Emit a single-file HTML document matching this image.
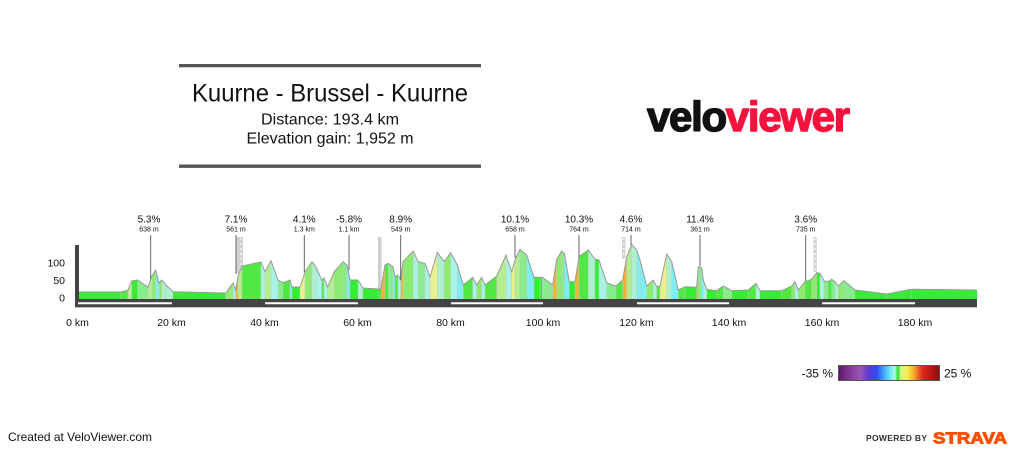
<!DOCTYPE html>
<html><head><meta charset="utf-8"><style>
html,body{margin:0;padding:0;background:#fff;}
svg{display:block;font-family:"Liberation Sans",Arial,sans-serif;}
</style></head><body>
<svg id="c" xmlns="http://www.w3.org/2000/svg" width="1024" height="451" viewBox="0 0 1024 451">
<defs>
<linearGradient id="cb" x1="0" x2="1" y1="0" y2="0">
<stop offset="0" stop-color="#5a1768"/>
<stop offset="0.12" stop-color="#8a3a98"/>
<stop offset="0.22" stop-color="#9a55b8"/>
<stop offset="0.30" stop-color="#5a3ad8"/>
<stop offset="0.38" stop-color="#2f4cf0"/>
<stop offset="0.45" stop-color="#45a8ff"/>
<stop offset="0.52" stop-color="#70f0f4"/>
<stop offset="0.56" stop-color="#b8f6e6"/>
<stop offset="0.585" stop-color="#22e022"/>
<stop offset="0.62" stop-color="#d8f48a"/>
<stop offset="0.68" stop-color="#f4f050"/>
<stop offset="0.75" stop-color="#f4a52a"/>
<stop offset="0.83" stop-color="#e2281e"/>
<stop offset="1" stop-color="#8a0c0c"/>
</linearGradient>
</defs>
<rect width="1024" height="451" fill="#fff"/>

<!-- Title block -->
<rect x="179" y="64" width="302" height="3.3" fill="#555"/>
<rect x="179" y="164.5" width="302" height="3.4" fill="#555"/>
<text x="330" y="101.5" font-size="25" text-anchor="middle" fill="#111" textLength="276" lengthAdjust="spacingAndGlyphs">Kuurne - Brussel - Kuurne</text>
<text x="330" y="124.3" font-size="16" text-anchor="middle" fill="#111" textLength="138" lengthAdjust="spacingAndGlyphs">Distance: 193.4 km</text>
<text x="330" y="143.5" font-size="16" text-anchor="middle" fill="#111" textLength="167" lengthAdjust="spacingAndGlyphs">Elevation gain: 1,952 m</text>

<!-- veloviewer logo -->
<text x="647" y="131" font-size="42" font-weight="bold" textLength="203" lengthAdjust="spacing" stroke-width="1.4" stroke-linejoin="round"><tspan fill="#111" stroke="#111">velo</tspan><tspan fill="#f5133d" stroke="#f5133d">viewer</tspan></text>

<!-- markers: gray bars -->
<rect x="236" y="237" width="7" height="36" fill="#d2d2d2"/>
<line x1="241" y1="238" x2="241" y2="272" stroke="#fff" stroke-width="1" stroke-dasharray="2,3"/>
<rect x="378" y="237" width="3.5" height="52" fill="#cfcfcf"/>
<rect x="622" y="237" width="3.5" height="22" fill="#d2d2d2"/>
<line x1="623.8" y1="238" x2="623.8" y2="258" stroke="#fff" stroke-width="1" stroke-dasharray="2,3"/>
<rect x="813.5" y="237" width="3.3" height="35" fill="#d2d2d2"/>
<line x1="815.2" y1="238" x2="815.2" y2="271" stroke="#fff" stroke-width="1" stroke-dasharray="2,3"/>

<!-- profile -->
<g id="prof">
<polygon id="base" fill="#33ee33" stroke="none" points=""/>
</g>
<polyline id="outline" fill="none" stroke="#9a9a9a" stroke-width="1" points=""/>

<!-- marker lines -->
<g stroke="#555" stroke-width="0.9">
<line x1="150.7" y1="235" x2="150.7" y2="279"/>
<line x1="236" y1="235" x2="236" y2="274"/>
<line x1="304.3" y1="235" x2="304.3" y2="272"/>
<line x1="349" y1="235" x2="349" y2="270"/>
<line x1="400.7" y1="235" x2="400.7" y2="280"/>
<line x1="515" y1="235" x2="515" y2="258"/>
<line x1="579" y1="235" x2="579" y2="257"/>
<line x1="631" y1="235" x2="631" y2="245"/>
<line x1="700" y1="235" x2="700" y2="266"/>
<line x1="805.7" y1="235" x2="805.7" y2="281"/>
</g>
<g fill="#111" text-anchor="middle">
<g font-size="10">
<text x="149" y="222.5">5.3%</text>
<text x="236" y="222.5">7.1%</text>
<text x="304.3" y="222.5">4.1%</text>
<text x="349" y="222.5">-5.8%</text>
<text x="400.7" y="222.5">8.9%</text>
<text x="515" y="222.5">10.1%</text>
<text x="579" y="222.5">10.3%</text>
<text x="631" y="222.5">4.6%</text>
<text x="700" y="222.5">11.4%</text>
<text x="805.7" y="222.5">3.6%</text>
</g>
<g font-size="7">
<text x="149" y="231.5">638 m</text>
<text x="236" y="231.5">561 m</text>
<text x="304.3" y="231.5">1.3 km</text>
<text x="349" y="231.5">1.1 km</text>
<text x="400.7" y="231.5">549 m</text>
<text x="515" y="231.5">658 m</text>
<text x="579" y="231.5">764 m</text>
<text x="631" y="231.5">714 m</text>
<text x="700" y="231.5">361 m</text>
<text x="805.7" y="231.5">735 m</text>
</g>
</g>

<!-- axes -->
<rect x="75" y="245" width="4" height="62" fill="#444"/>
<rect x="75" y="299" width="902" height="8.3" fill="#444"/>
<g stroke="#fff" stroke-width="2">
<line x1="78" y1="303.3" x2="172" y2="303.3"/>
<line x1="265" y1="303.3" x2="358" y2="303.3"/>
<line x1="451" y1="303.3" x2="543" y2="303.3"/>
<line x1="637" y1="303.3" x2="729" y2="303.3"/>
<line x1="822" y1="303.3" x2="915" y2="303.3"/>
</g>
<g font-size="10.5" fill="#111" text-anchor="end">
<text x="65" y="266.5">100</text>
<text x="65" y="284">50</text>
<text x="65" y="301.5">0</text>
</g>
<g font-size="10.5" fill="#111" text-anchor="middle">
<text x="77.5" y="326">0 km</text>
<text x="171.5" y="326">20 km</text>
<text x="264.5" y="326">40 km</text>
<text x="357.5" y="326">60 km</text>
<text x="450.5" y="326">80 km</text>
<text x="543" y="326">100 km</text>
<text x="636.5" y="326">120 km</text>
<text x="729" y="326">140 km</text>
<text x="822" y="326">160 km</text>
<text x="915" y="326">180 km</text>
</g>

<!-- colour bar -->
<text x="833" y="377.5" font-size="12" fill="#111" text-anchor="end">-35 %</text>
<rect x="838.5" y="365.5" width="101" height="15" fill="url(#cb)" stroke="#555" stroke-width="1"/>
<text x="944" y="377.5" font-size="12" fill="#111">25 %</text>

<!-- footer -->
<text x="8" y="441" font-size="12" fill="#111" textLength="144" lengthAdjust="spacingAndGlyphs">Created at VeloViewer.com</text>
<text x="866" y="441" font-size="8.5" font-weight="bold" fill="#333" textLength="61" lengthAdjust="spacing">POWERED BY</text>
<text x="933" y="443.5" font-size="16" font-weight="bold" fill="#fc5200" stroke="#fc5200" stroke-width="0.9" textLength="74" lengthAdjust="spacingAndGlyphs">STRAVA</text>
</svg>
<script>
(function(){
var P=[[78,292],[121,292],[128,290],[131.7,281],[137.7,280],[148,287],[152,276],[155.7,270],[159,283],[161.7,280],[166,285],[173,291.7],[225.7,293],[230,287],[233,283],[235.7,290],[238,276],[242,266],[261,262],[265,271.7],[271,260.7],[278,280],[283,282.7],[290,280],[292,287],[300,287],[305,272],[312,261.7],[316,266.7],[321.7,280],[324,278],[327.7,287],[334,272],[343,261.7],[347,265],[350,280],[358,280],[363,288],[378,289],[381,289],[385,265],[388.3,263.3],[393,266.7],[395,276.7],[398,275],[400.7,280],[403,261.7],[413.3,251],[418,261.7],[422,262.7],[425,263.3],[430,277],[437.3,252.3],[444.3,261.7],[450.7,252.7],[457.3,265],[463.3,285],[472.7,277.3],[476.7,285],[481.7,277.3],[485,285],[496.7,276],[506,255],[511.7,271.7],[515,260],[520,249.3],[526.7,255],[534,277.3],[540,277.3],[542.3,277.3],[548.3,281.7],[552.7,285],[556.7,259.3],[561.7,251],[564.3,253.3],[569.3,281.7],[575,281.7],[579,256.7],[588.3,250],[595,259.3],[599,260],[606.7,282.7],[616,286],[622.7,280],[626.7,257.3],[631.7,244.3],[636.7,250],[640,260],[646.7,286],[653.3,280],[656.7,286.7],[660,286],[666.7,254],[671.7,261.7],[678.3,290],[685,286.7],[696.7,287.3],[698.3,266.7],[701.7,267.7],[703.3,280],[706.7,289.3],[716.7,290.7],[723.3,286],[731.7,290.7],[748.3,290],[756,283.3],[760,290.7],[781.7,290.7],[791.7,286],[795,281.7],[798.3,290],[805,281.7],[811.7,279.3],[816.7,272.7],[820,273.3],[824,280.7],[828,281.7],[831.7,279.3],[835,281.7],[838.3,286],[844,280.7],[855,290],[886.7,294],[911.7,289.3],[977,290]];
var NS="http://www.w3.org/2000/svg",B=299;
var g=document.getElementById("prof");
var basePts=P.map(function(p){return p[0]+","+p[1];}).join(" ");
document.getElementById("base").setAttribute("points",basePts+" 977,"+B+" 78,"+B);
document.getElementById("outline").setAttribute("points",basePts);
function col(s){
 if(Math.abs(s)<0.2) return "#33ee33";
 if(s>0){
  if(s<0.9) return "#52e844";
  if(s<1.8) return "#8eea70";
  if(s<3) return "#b4ee92";
  if(s<5) return "#e8f090";
  return "#f2b23a";
 } else {
  s=-s;
  if(s<0.9) return "#86ec8c";
  if(s<1.8) return "#acf0d0";
  if(s<3) return "#a8f2e6";
  return "#7eeef0";
 }
}
for(var i=0;i<P.length-1;i++){
 var a=P[i],b=P[i+1];
 var s=(a[1]-b[1])/(b[0]-a[0]);
 var pg=document.createElementNS(NS,"polygon");
 pg.setAttribute("points",a[0]+","+a[1]+" "+b[0]+","+b[1]+" "+b[0]+","+B+" "+a[0]+","+B);
 pg.setAttribute("fill",col(s));
 pg.setAttribute("stroke",col(s));
 pg.setAttribute("stroke-width","0.3");
 g.appendChild(pg);
}
for(var j=1;j<P.length-1;j++){
 var ln=document.createElementNS(NS,"line");
 ln.setAttribute("x1",P[j][0]);ln.setAttribute("x2",P[j][0]);
 ln.setAttribute("y1",P[j][1]);ln.setAttribute("y2",B);
 ln.setAttribute("stroke","#c8c8c8");ln.setAttribute("stroke-width","0.5");
 g.appendChild(ln);
}
})();
</script>
</body></html>
